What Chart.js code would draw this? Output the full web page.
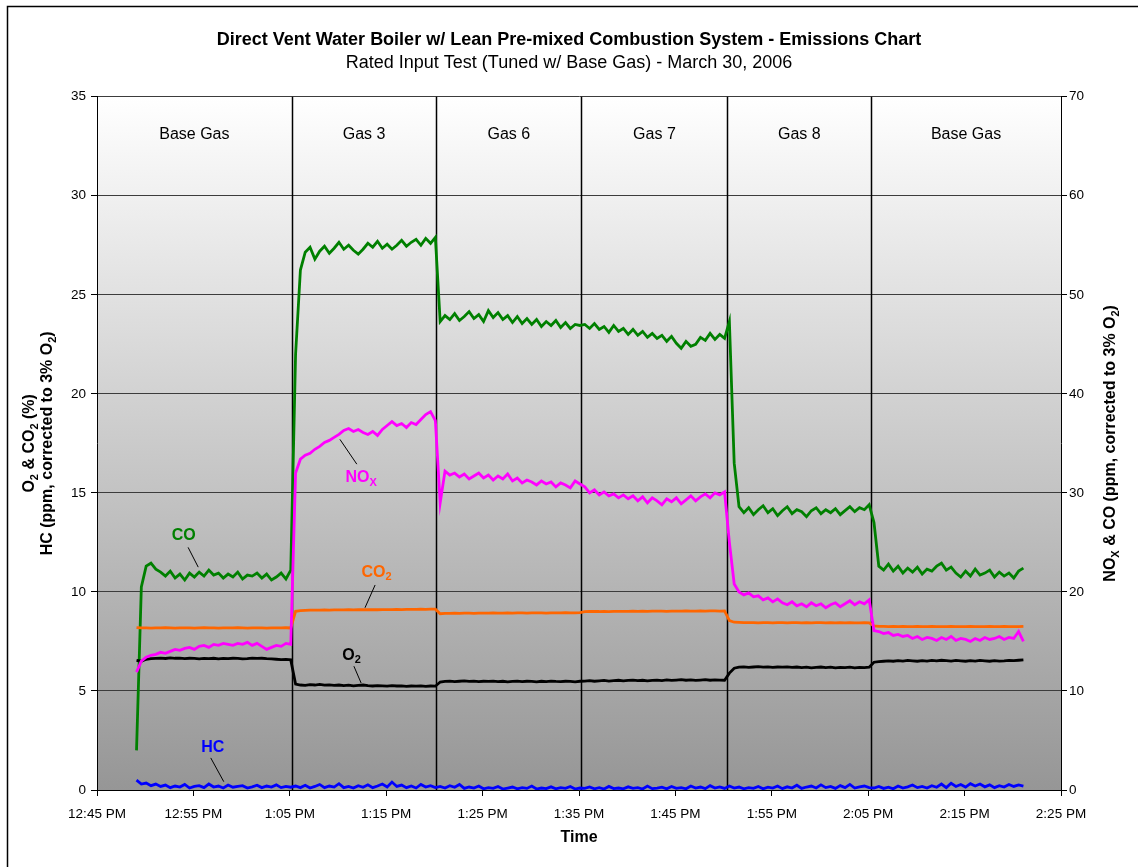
<!DOCTYPE html>
<html>
<head>
<meta charset="utf-8">
<script src="https://cdn.jsdelivr.net/npm/chart.js@4.4.1/dist/chart.umd.min.js"></script>
<style>
  html, body { margin: 0; padding: 0; background: #fff; }
  #wrap { position: relative; width: 1138px; height: 867px; }
</style>
</head>
<body>
<div id="wrap"><canvas id="chart-canvas"></canvas></div>
<script>
// sampling: minutes after 12:45 PM, first sample and step
const startMin = 4.1;
const stepMin = 0.5;

// gas sections (minutes after 12:45 PM where each one ends)
const gasNames = ['Base Gas', 'Gas 3', 'Gas 6', 'Gas 7', 'Gas 8', 'Base Gas'];
const gasBreaks = [20.2, 35.2, 50.25, 65.4, 80.3];

// right axis, ppm
const coPpm = [
  4.0, 20.5, 22.6, 22.9, 22.3, 22.0, 21.6, 22.1, 21.4, 21.8, 21.2, 21.9, 21.5, 22.0, 21.6, 22.2, 21.7, 21.9, 21.4, 21.8, 21.5, 22.0, 21.3, 21.7, 21.6, 21.9, 21.4, 21.8, 21.2, 21.5, 21.9, 21.3, 22.2,
  44.0, 52.5, 54.3, 54.8, 53.6, 54.4, 54.9, 54.2, 54.7, 55.3, 54.6, 55.0, 54.5, 54.1, 54.6, 55.2, 54.8, 55.4, 54.7, 55.1, 54.6, 55.0, 55.5, 54.9, 55.3, 55.6, 55.0, 55.7, 55.2, 55.8,
  47.3, 47.9, 47.5, 48.1, 47.4, 47.8, 48.3, 47.6, 48.0, 47.3, 48.4, 47.7, 48.2, 47.5, 47.9, 47.2, 47.8, 47.1, 47.6, 47.0, 47.5, 46.8, 47.3, 46.9, 47.4, 46.7, 47.2, 46.6, 47.0, 46.9,
  47.0, 46.6, 47.1, 46.5, 46.8, 46.2, 46.9, 46.3, 46.6, 46.0, 46.5, 45.9, 46.3, 45.7, 46.1, 45.6, 45.9, 45.3, 45.8, 45.1, 44.6, 45.3, 44.8, 45.0, 45.7, 45.4, 46.1, 45.5, 46.0, 45.6,
  47.3, 33.0, 28.6, 28.0, 28.5, 27.8, 28.3, 28.7, 28.0, 28.4, 27.7, 28.2, 28.6, 27.9, 28.3, 28.1, 27.6, 28.2, 28.5, 27.9, 28.3, 28.0, 28.4, 27.8, 28.2, 28.6, 28.1, 28.5, 28.3, 28.8,
  27.0, 22.6, 22.2, 22.8, 22.1, 22.6, 21.9, 22.4, 22.0, 22.5, 21.8, 22.3, 22.1, 22.6, 22.9, 22.2, 22.5, 21.9, 21.5, 22.1, 21.6, 22.3, 21.7, 21.9, 22.2, 21.5, 22.0, 21.6, 21.9, 21.4, 22.1, 22.4
];
const noxPpm = [
  11.9, 13.0, 13.4, 13.6, 13.7, 13.9, 13.8, 14.0, 14.2, 14.1, 14.3, 14.4, 14.2, 14.5, 14.6, 14.4, 14.7, 14.6, 14.8, 14.7, 14.6, 14.8, 14.7, 14.9, 14.6, 14.8, 14.5, 14.2, 14.4, 14.6, 14.5, 14.8, 14.7,
  32.0, 33.4, 33.8, 34.0, 34.4, 34.7, 35.1, 35.3, 35.6, 35.9, 36.3, 36.5, 36.2, 36.4, 36.1, 35.9, 36.2, 35.8, 36.4, 36.8, 37.2, 36.8, 37.0, 36.6, 37.1, 36.9, 37.4, 37.9, 38.2, 37.3,
  29.0, 32.2, 31.8, 32.0, 31.6, 31.9, 31.4, 31.7, 32.0, 31.5, 31.8, 31.3, 31.7, 31.4, 31.9, 31.2, 31.5, 31.0, 31.3, 31.1, 30.8, 31.2, 30.9, 31.1, 30.6, 31.0, 30.8, 30.5, 31.2, 30.9,
  30.6, 30.0, 30.3, 29.8, 30.1, 29.7, 29.9, 29.5, 29.8, 29.4, 29.7, 29.2, 29.6, 29.0, 29.5, 29.2, 28.8, 29.4, 29.1, 29.5, 28.9, 29.3, 29.7, 29.2, 29.6, 29.9, 29.5, 30.0, 29.8, 30.1,
  25.0, 20.8, 20.0, 19.7, 19.9, 19.5, 19.6, 19.2, 19.4, 19.0, 19.3, 18.9, 18.7, 19.0, 18.6, 18.8, 18.5, 18.9, 18.6, 18.8, 18.4, 18.7, 18.9, 18.5, 18.8, 19.1, 18.7, 19.0, 18.8, 19.2,
  16.1, 16.0, 15.8, 15.9, 15.6, 15.7, 15.5, 15.6, 15.3, 15.5, 15.2, 15.4, 15.3, 15.1, 15.4, 15.2, 15.5, 15.1, 15.3, 15.2, 15.0, 15.3, 15.1, 15.4, 15.2, 15.3, 15.5, 15.2, 15.4, 15.3, 16.0, 15.0
];

// left axis, % and ppm
const co2Pct = [
  8.20, 8.18, 8.18, 8.17, 8.18, 8.18, 8.19, 8.18, 8.17, 8.18, 8.18, 8.18, 8.17, 8.18, 8.19, 8.18, 8.18, 8.17, 8.18, 8.18, 8.18, 8.19, 8.18, 8.17, 8.18, 8.18, 8.18, 8.17, 8.18, 8.18, 8.18, 8.19, 8.18,
  9.02, 9.06, 9.07, 9.08, 9.08, 9.08, 9.09, 9.08, 9.09, 9.09, 9.09, 9.10, 9.09, 9.10, 9.10, 9.10, 9.11, 9.10, 9.11, 9.11, 9.11, 9.12, 9.11, 9.12, 9.12, 9.12, 9.13, 9.12, 9.13, 9.13,
  8.90, 8.92, 8.92, 8.93, 8.92, 8.93, 8.93, 8.92, 8.93, 8.93, 8.93, 8.94, 8.93, 8.93, 8.94, 8.93, 8.94, 8.94, 8.93, 8.94, 8.94, 8.94, 8.93, 8.94, 8.94, 8.94, 8.95, 8.94, 8.94, 8.95,
  9.00, 9.01, 9.01, 9.01, 9.02, 9.01, 9.02, 9.02, 9.02, 9.02, 9.03, 9.02, 9.03, 9.02, 9.03, 9.03, 9.03, 9.02, 9.03, 9.03, 9.03, 9.04, 9.03, 9.03, 9.04, 9.03, 9.04, 9.04, 9.03, 9.04,
  8.55, 8.47, 8.46, 8.45, 8.45, 8.45, 8.44, 8.45, 8.45, 8.44, 8.45, 8.45, 8.44, 8.45, 8.45, 8.44, 8.45, 8.44, 8.45, 8.45, 8.44, 8.45, 8.44, 8.45, 8.44, 8.45, 8.44, 8.44, 8.45, 8.44,
  8.28, 8.26, 8.26, 8.25, 8.26, 8.25, 8.26, 8.25, 8.25, 8.26, 8.25, 8.25, 8.26, 8.25, 8.25, 8.25, 8.26, 8.25, 8.25, 8.25, 8.26, 8.25, 8.25, 8.25, 8.26, 8.25, 8.25, 8.26, 8.25, 8.25, 8.25, 8.26
];
const o2Pct = [
  6.55, 6.50, 6.60, 6.63, 6.65, 6.66, 6.64, 6.67, 6.65, 6.66, 6.63, 6.65, 6.64, 6.62, 6.64, 6.63, 6.65, 6.62, 6.64, 6.63, 6.65, 6.64, 6.62, 6.63, 6.66, 6.64, 6.65, 6.63, 6.62, 6.60, 6.58, 6.59, 6.57,
  5.35, 5.30, 5.28, 5.32, 5.30, 5.33, 5.29, 5.31, 5.28, 5.30, 5.27, 5.29, 5.26, 5.28, 5.30, 5.27, 5.25, 5.27, 5.26, 5.24, 5.27, 5.25, 5.26, 5.23, 5.25, 5.24, 5.26, 5.23, 5.25, 5.24,
  5.45, 5.48, 5.50, 5.47, 5.49, 5.51, 5.48, 5.50, 5.47, 5.49, 5.48, 5.50, 5.47, 5.49, 5.46, 5.48, 5.50, 5.47, 5.49, 5.48, 5.46, 5.49, 5.47, 5.50, 5.48, 5.47, 5.49, 5.48, 5.46, 5.49,
  5.50, 5.52, 5.49, 5.51, 5.53, 5.50, 5.52, 5.54, 5.51, 5.53, 5.55, 5.52, 5.54, 5.51, 5.53, 5.55, 5.52, 5.56, 5.53, 5.55, 5.57, 5.54, 5.56, 5.53, 5.55, 5.57, 5.54, 5.56, 5.55, 5.54,
  5.90, 6.15, 6.20, 6.22, 6.19, 6.21, 6.23, 6.20, 6.22, 6.19, 6.21, 6.20, 6.22, 6.19, 6.21, 6.18, 6.20, 6.17, 6.19, 6.21, 6.18, 6.20, 6.17, 6.19, 6.18, 6.20, 6.17, 6.19, 6.18, 6.20,
  6.45, 6.48, 6.50, 6.52, 6.50, 6.53, 6.51, 6.54, 6.52, 6.50, 6.53, 6.51, 6.54, 6.52, 6.55, 6.53, 6.51, 6.54, 6.52, 6.50, 6.53, 6.51, 6.54, 6.52, 6.50, 6.53, 6.51, 6.52, 6.54, 6.53, 6.55, 6.57
];
const hcPpm = [
  0.50, 0.30, 0.35, 0.22, 0.30, 0.18, 0.25, 0.12, 0.20, 0.15, 0.28, 0.10, 0.18, 0.22, 0.12, 0.30, 0.15, 0.20, 0.10, 0.25, 0.14, 0.18, 0.22, 0.10, 0.16, 0.24, 0.12, 0.20, 0.15, 0.26, 0.12, 0.18, 0.14,
  0.20, 0.12, 0.24, 0.10, 0.18, 0.28, 0.12, 0.20, 0.15, 0.32, 0.12, 0.18, 0.10, 0.22, 0.14, 0.26, 0.12, 0.20, 0.30, 0.15, 0.40, 0.18, 0.25, 0.12, 0.20, 0.10, 0.28, 0.15, 0.22, 0.12,
  0.18, 0.10, 0.22, 0.14, 0.28, 0.08, 0.15, 0.10, 0.20, 0.06, 0.12, 0.08, 0.18, 0.05, 0.10, 0.15, 0.06, 0.12, 0.08, 0.20, 0.05, 0.10, 0.07, 0.16, 0.06, 0.12, 0.08, 0.18, 0.05, 0.10,
  0.08, 0.15, 0.06, 0.12, 0.05, 0.18, 0.07, 0.10, 0.06, 0.16, 0.08, 0.12, 0.05, 0.20, 0.07, 0.10, 0.14, 0.06, 0.18, 0.08, 0.12, 0.06, 0.20, 0.10, 0.15, 0.07, 0.22, 0.10, 0.16, 0.08,
  0.20, 0.10, 0.15, 0.06, 0.12, 0.08, 0.18, 0.06, 0.14, 0.10, 0.20, 0.07, 0.16, 0.10, 0.24, 0.08, 0.15, 0.20, 0.10, 0.26, 0.12, 0.18, 0.08, 0.22, 0.12, 0.28, 0.10, 0.16, 0.20, 0.12,
  0.10, 0.18, 0.08, 0.14, 0.06, 0.20, 0.10, 0.16, 0.25, 0.12, 0.18, 0.10, 0.22, 0.14, 0.30, 0.12, 0.34, 0.18, 0.28, 0.15, 0.32, 0.20, 0.30, 0.16, 0.26, 0.12, 0.22, 0.15, 0.28, 0.18, 0.26, 0.20
];

const FONT = '"Liberation Sans", Arial, Helvetica, sans-serif';
Chart.defaults.font.family = FONT;
Chart.defaults.color = '#000';

function clock(min) {
  const total = 12 * 60 + 45 + min;
  let h = Math.floor(total / 60);
  const m = total % 60;
  const ap = h >= 12 ? 'PM' : 'AM';
  h = h % 12 || 12;
  return h + ':' + String(m).padStart(2, '0') + ' ' + ap;
}

const pts = arr => arr.map((v, i) => ({ x: startMin + i * stepMin, y: v }));

// text with subscripts: parts = [[text, isSub], ...]
function drawRich(ctx, parts, cx, cy, size, color, rotate) {
  const subSize = Math.round(size * 0.68);
  ctx.save();
  ctx.translate(cx, cy);
  if (rotate) ctx.rotate(-Math.PI / 2);
  ctx.fillStyle = color;
  ctx.textBaseline = 'middle';
  ctx.textAlign = 'left';
  let total = 0;
  parts.forEach(p => {
    ctx.font = 'bold ' + (p[1] ? subSize : size) + 'px ' + FONT;
    total += ctx.measureText(p[0]).width;
  });
  let x = -total / 2;
  parts.forEach(p => {
    ctx.font = 'bold ' + (p[1] ? subSize : size) + 'px ' + FONT;
    ctx.fillText(p[0], x, p[1] ? size * 0.32 : 0);
    x += ctx.measureText(p[0]).width;
  });
  ctx.restore();
}

// series labels, placed in (minutes, left-axis units)
const callouts = [
  { parts: [['CO', 0]], color: '#008000', at: [9.0, 12.85], line: [[9.45, 12.25], [10.5, 11.25]] },
  { parts: [['NO', 0], ['X', 1]], color: '#ff00ff', at: [27.4, 15.75], line: [[25.2, 17.7], [26.95, 16.45]] },
  { parts: [['CO', 0], ['2', 1]], color: '#ff6600', at: [29.0, 11.0], line: [[28.85, 10.35], [27.8, 9.2]] },
  { parts: [['O', 0], ['2', 1]], color: '#000000', at: [26.4, 6.8], line: [[26.65, 6.25], [27.4, 5.4]] },
  { parts: [['HC', 0]], color: '#0000ff', at: [12.0, 2.15], line: [[11.8, 1.62], [13.15, 0.42]] }
];

const chartDecor = {
  id: 'chartDecor',
  beforeDraw(chart) {
    const { ctx, chartArea: a } = chart;
    ctx.save();
    const g = ctx.createLinearGradient(0, a.top, 0, a.bottom);
    g.addColorStop(0, '#ffffff');
    g.addColorStop(1, '#969696');
    ctx.fillStyle = g;
    ctx.fillRect(a.left, a.top, a.right - a.left, a.bottom - a.top);
    // outer frame
    ctx.strokeStyle = '#000';
    ctx.lineWidth = 1.5;
    ctx.beginPath();
    ctx.moveTo(7.5, chart.height);
    ctx.lineTo(7.5, 6.5);
    ctx.lineTo(chart.width, 6.5);
    ctx.stroke();
    ctx.restore();
  },
  beforeDatasetsDraw(chart) {
    const { ctx, chartArea: a, scales } = chart;
    const xs = scales.x;
    ctx.save();
    ctx.strokeStyle = '#000';
    ctx.lineWidth = 1.5;
    gasBreaks.forEach(t => {
      const px = Math.round(xs.getPixelForValue(t)) + 0.5;
      ctx.beginPath();
      ctx.moveTo(px, a.top);
      ctx.lineTo(px, a.bottom);
      ctx.stroke();
    });
    const edges = [xs.min].concat(gasBreaks, [xs.max]);
    ctx.font = '16px ' + FONT;
    ctx.fillStyle = '#000';
    ctx.textAlign = 'center';
    ctx.textBaseline = 'middle';
    gasNames.forEach((n, i) => {
      const cx = (xs.getPixelForValue(edges[i]) + xs.getPixelForValue(edges[i + 1])) / 2;
      ctx.fillText(n, cx, a.top + 38);
    });
    ctx.restore();
  },
  afterDraw(chart) {
    const { ctx, chartArea: a, scales } = chart;
    const xs = scales.x, ys = scales.y;
    ctx.save();
    ctx.strokeStyle = '#000';
    ctx.lineWidth = 1;
    callouts.forEach(c => {
      ctx.beginPath();
      ctx.moveTo(xs.getPixelForValue(c.line[0][0]), ys.getPixelForValue(c.line[0][1]));
      ctx.lineTo(xs.getPixelForValue(c.line[1][0]), ys.getPixelForValue(c.line[1][1]));
      ctx.stroke();
      drawRich(ctx, c.parts, xs.getPixelForValue(c.at[0]), ys.getPixelForValue(c.at[1]), 16, c.color, false);
    });
    ctx.restore();
    // axis titles
    const midY = (a.top + a.bottom) / 2;
    drawRich(ctx, [['O', 0], ['2', 1], [' & CO', 0], ['2', 1], [' (%)', 0]], 30, midY, 16, '#000', true);
    drawRich(ctx, [['HC (ppm, corrected to 3% O', 0], ['2', 1], [')', 0]], 48, midY, 16, '#000', true);
    drawRich(ctx, [['NO', 0], ['X', 1], [' & CO (ppm, corrected to 3% O', 0], ['2', 1], [')', 0]], 1111, midY, 16, '#000', true);
  }
};

const lineStyle = { borderWidth: 2.8, pointRadius: 0, tension: 0, fill: false };

new Chart(document.getElementById('chart-canvas'), {
  type: 'line',
  data: {
    datasets: [
      Object.assign({ label: 'HC', data: pts(hcPpm), borderColor: '#0000ff', yAxisID: 'y' }, lineStyle),
      Object.assign({ label: 'NOx', data: pts(noxPpm), borderColor: '#ff00ff', yAxisID: 'y2' }, lineStyle),
      Object.assign({ label: 'O2', data: pts(o2Pct), borderColor: '#000000', yAxisID: 'y' }, lineStyle),
      Object.assign({ label: 'CO2', data: pts(co2Pct), borderColor: '#ff6600', yAxisID: 'y' }, lineStyle),
      Object.assign({ label: 'CO', data: pts(coPpm), borderColor: '#008000', yAxisID: 'y2' }, lineStyle)
    ]
  },
  options: {
    responsive: true,
    maintainAspectRatio: false,
    animation: false,
    layout: { padding: 0 },
    scales: {
      x: {
        type: 'linear',
        min: 0,
        max: 100,
        afterFit(s) { s.height = 77; },
        ticks: { stepSize: 10, padding: 10, font: { size: 13.5 }, maxRotation: 0, callback: v => clock(v) },
        grid: { drawOnChartArea: false, drawTicks: true, tickLength: 6, color: '#000' },
        border: { color: '#000', width: 1 },
        title: { display: true, text: 'Time', font: { size: 16, weight: 'bold' }, padding: { top: 0, bottom: 20 } }
      },
      y: {
        position: 'left',
        min: 0,
        max: 35,
        afterFit(s) { s.width = 97; },
        ticks: { stepSize: 5, padding: 5, font: { size: 13.5 } },
        grid: { color: '#3c3c3c', tickColor: '#000', tickLength: 6, lineWidth: 1 },
        border: { color: '#000', width: 1 }
      },
      y2: {
        position: 'right',
        min: 0,
        max: 70,
        afterFit(s) { s.width = 77; },
        ticks: { stepSize: 10, padding: 2, font: { size: 13.5 } },
        grid: { drawOnChartArea: false, tickColor: '#000', tickLength: 6 },
        border: { color: '#000', width: 1 }
      }
    },
    plugins: {
      legend: { display: false },
      tooltip: { enabled: false },
      title: {
        display: true,
        text: 'Direct Vent Water Boiler w/ Lean Pre-mixed Combustion System - Emissions Chart',
        font: { size: 18, weight: 'bold' },
        padding: { top: 29, bottom: 1.5 }
      },
      subtitle: {
        display: true,
        text: 'Rated Input Test (Tuned w/ Base Gas) - March 30, 2006',
        font: { size: 18, weight: 'normal' },
        padding: { top: 0, bottom: 23 }
      }
    }
  },
  plugins: [chartDecor]
});
</script>
</body>
</html>
